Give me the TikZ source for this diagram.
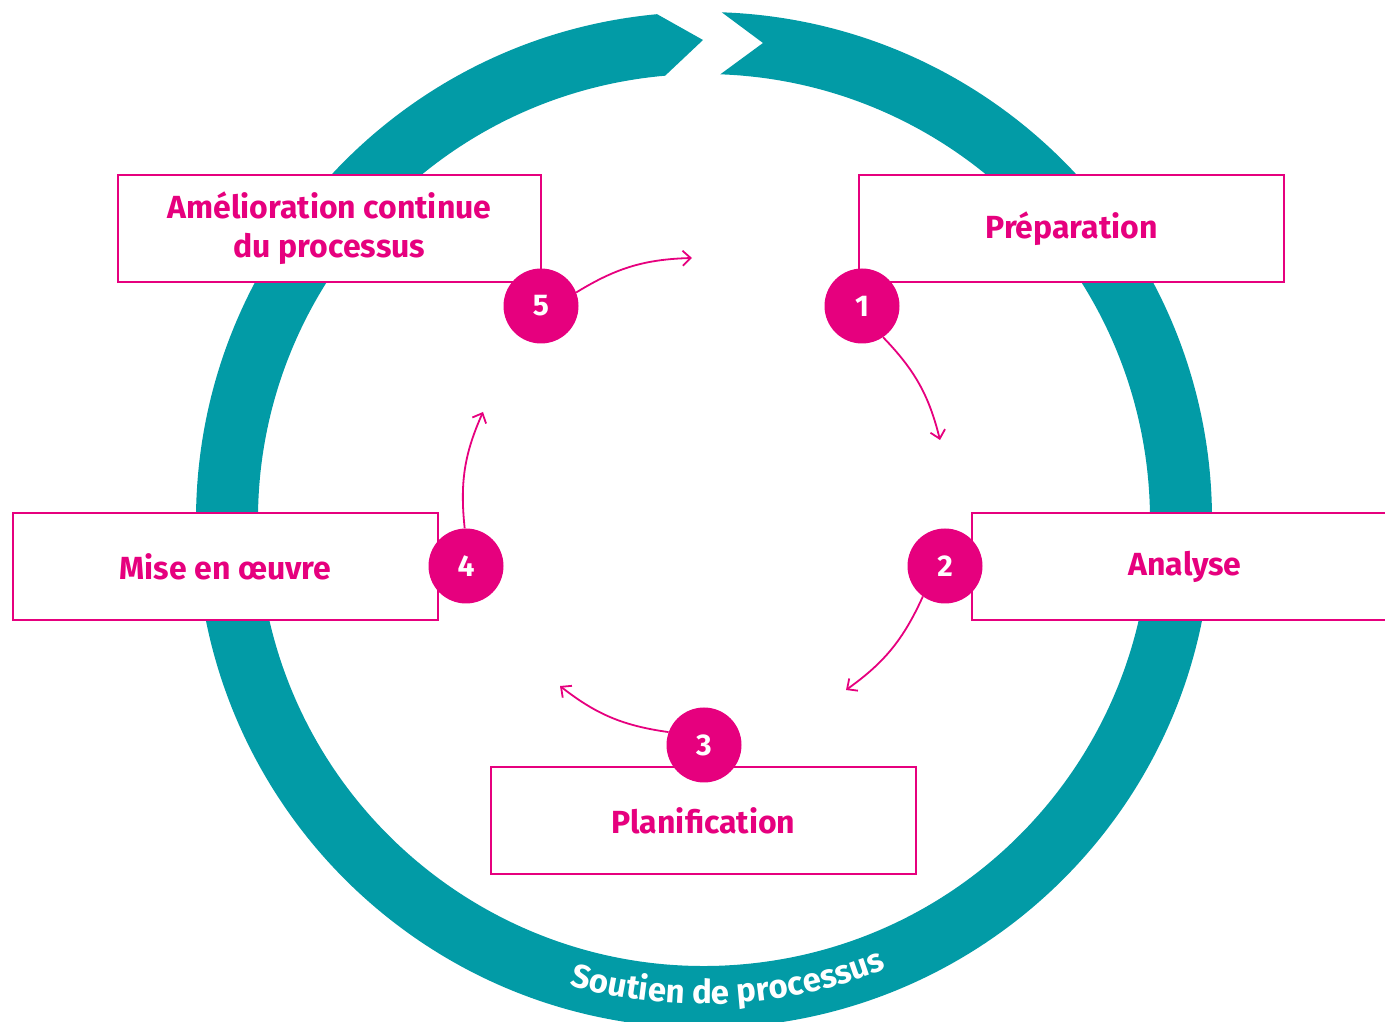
\documentclass[tikz,border=0pt]{standalone}
\usepackage{fontspec}
\setmainfont{Fira Sans}
\usetikzlibrary{arrows.meta,decorations.text,calc}
\definecolor{ringteal}{RGB}{2,155,166}
\definecolor{mag}{RGB}{230,0,126}
\tikzset{
  boxnode/.style={draw=mag, line width=2pt, fill=white, minimum height=107pt, inner sep=0pt,
    text=mag, font=\bfseries\fontsize{32}{39}\selectfont, align=center},
  numnode/.style={circle, fill=mag, minimum size=75pt, inner sep=0pt, text=white,
    font=\bfseries\fontsize{30}{30}\selectfont},
  flowarrow/.style={draw=mag, line width=1.8pt, -{Straight Barb[length=8pt,width=15pt,line width=1.8pt]}}
}
\begin{document}
\begin{tikzpicture}[x=1pt,y=1pt]
\useasboundingbox (0,0) rectangle (1385,1021);
% ring
\coordinate (ctr) at (704,501);
\coordinate (tip) at (703,981);
\coordinate (notch) at (763,978);
\fill[ringteal] ($(ctr)+(95.3:508)$) -- (tip) -- ($(ctr)+(95:446)$)
  arc[start angle=95, end angle=447.9, radius=446] -- (notch) -- ($(ctr)+(88:508)$)
  arc[start angle=88, end angle=-264.7, radius=508] -- cycle;
\path[decorate, decoration={text along path, text align=center,
  text={|\color{white}\bfseries\fontsize{33}{33}\selectfont|Soutien de processus}}]
  ($(ctr)+(-128:484)$) arc[start angle=-128, end angle=-46, radius=484];
% boxes
\node[boxnode, minimum width=423pt] (b5) at (329.5,792.5) {Amélioration continue\\du processus};
\node[boxnode, minimum width=425pt] (b1) at (1071.5,792.5) {Préparation};
\node[boxnode, minimum width=426pt] (b2) at (1185,454.5) {Analyse};
\node[boxnode, minimum width=425pt] (b4) at (225.5,454.5) {Mise en œuvre};
\node[boxnode, minimum width=425pt] (b3) at (703.5,200.5) {Planification};
% circles
\node[numnode] (c5) at (541,715) {5};
\node[numnode] (c1) at (862,715) {1};
\node[numnode] (c2) at (945,455) {2};
\node[numnode] (c4) at (466,455) {4};
\node[numnode] (c3) at (704,276) {3};
% arrow ends
\coordinate (e5) at (692,763);
\coordinate (e1) at (940,581);
\coordinate (e2) at (846,331);
\coordinate (e3) at (560,335);
\coordinate (e4) at (483,609);
\draw[flowarrow] (c5.21) to[bend left=15] (e5);
\draw[flowarrow] (c1.-56) to[bend left=15] (e1);
\draw[flowarrow] (c2.-126) to[bend left=15] (e2);
\draw[flowarrow] (c3.160) to[bend left=15] (e3);
\draw[flowarrow] (c4.92) to[bend left=15] (e4);
\end{tikzpicture}
\end{document}
